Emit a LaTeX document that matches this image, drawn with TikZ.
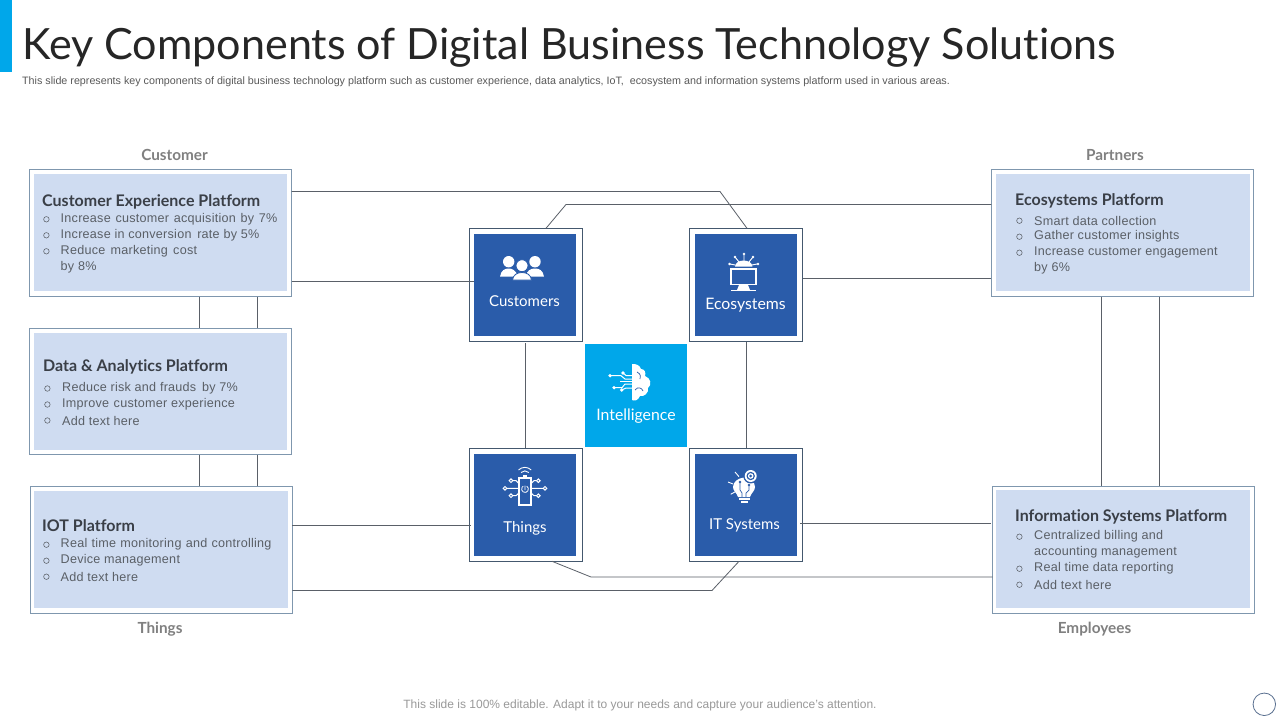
\documentclass[tikz,border=0pt]{standalone}
\usepackage{fontspec}
\setmainfont{Liberation Sans}
\newfontfamily\lato[Ligatures=NoCommon]{Lato}
\newfontfamily\bodyface[LetterSpace=2]{Liberation Sans}
\usetikzlibrary{calc}
\definecolor{accent}{HTML}{00A7EA}
\definecolor{deep}{HTML}{2A5CAA}
\definecolor{pale}{HTML}{CFDCF1}
\definecolor{frameblue}{HTML}{7F97AE}
\definecolor{framedark}{HTML}{44586E}
\definecolor{wire}{HTML}{5A6068}
\definecolor{labelgrey}{HTML}{808080}
\definecolor{bodygrey}{HTML}{5A5F66}
\definecolor{headdark}{HTML}{3A3F47}
\definecolor{badgeline}{HTML}{5A7090}
\tikzset{
 x=1pt,y=-1pt,
 outerplat/.style={draw=frameblue,line width=0.9pt,fill=white,anchor=north west,inner sep=0pt,outer sep=0pt},
 innerplat/.style={fill=pale,anchor=north west,inner sep=0pt,outer sep=0pt},
 outerhub/.style={draw=framedark,line width=0.9pt,fill=white,anchor=north west,inner sep=0pt,outer sep=0pt,minimum width=113.4pt,minimum height=113pt},
 innerhub/.style={fill=deep,anchor=north west,inner sep=0pt,outer sep=0pt,minimum width=102pt,minimum height=102pt},
 wirestyle/.style={draw=wire,line width=0.8pt},
 hublabel/.style={text=white,font=\lato\fontsize{15}{18}\selectfont,anchor=base,inner sep=0pt},
 hublabelwide/.style={text=white,font=\lato\fontsize{15.8}{18}\selectfont,anchor=base,inner sep=0pt},
 grouplabel/.style={text=labelgrey,font=\lato\bfseries\fontsize{15.3}{17}\selectfont,anchor=base,inner sep=0pt},
 heading/.style={text=headdark,font=\lato\bfseries\fontsize{16}{18}\selectfont,anchor=west,inner sep=0pt},
 bodyline/.style={text=bodygrey,font=\bodyface\fontsize{12.6}{14}\selectfont,anchor=west,inner sep=0pt},
 bulletmark/.style={draw=bodygrey,line width=0.55pt,fill=none,circle,inner sep=0pt,outer sep=0pt,minimum size=5.5pt},
 iconline/.style={draw=white,line width=1pt,fill=none},
}
\newcommand{\plat}[9]{%
 \node[outerplat,minimum width={(#4-#2)*1pt},minimum height={(#5-#3)*1pt}] (#1) at (#2,#3) {};
 \node[innerplat,minimum width={(#8-#6)*1pt},minimum height={(#9-#7)*1pt}] (#1in) at (#6,#7) {};}
\newcommand{\hub}[4]{%
 \node[outerhub] (#1) at (#2,#3) {};
 \node[innerhub] (#1in) at (#4,#3+5.7) {};}
\newcommand{\bul}[3]{%
 \node[bulletmark] (b#1) at (#2,#3) {};}
\begin{document}
\begin{tikzpicture}
\useasboundingbox (0,0) rectangle (1280,720);
\fill[white] (0,0) rectangle (1280,720);
\node[fill=accent,anchor=north west,minimum width=12pt,minimum height=72pt,inner sep=0pt,outer sep=0pt] (bar) at (0,0) {};
\node[anchor=base west,inner sep=0pt,text=black!85,font=\lato\fontsize{43.05}{50}\selectfont] (title) at (22,59) {Key Components of Digital Business Technology Solutions};
\node[anchor=west,inner sep=0pt,text=black!65,font=\fontsize{10.72}{12}\selectfont] (sub) at (22,81.3) {This slide represents key components of digital business technology platform such as customer experience, data analytics, IoT,\ \ ecosystem and information systems platform used in various areas.};

\plat{cep}{29.3}{169.3}{291.7}{296.5}{34}{174}{287}{291}
\plat{dap}{29.3}{328.3}{291.7}{454.7}{34}{332.5}{287}{449.7}
\plat{iot}{30.3}{486.3}{292.3}{613.3}{34}{490.5}{287.5}{607.7}
\plat{eco}{991.3}{169.3}{1253.7}{296.7}{996}{174}{1249.5}{291}
\plat{isp}{992.7}{486.3}{1254.5}{613.3}{996}{490}{1249.5}{608}
\hub{hcust}{469.3}{228.3}{474}
\hub{heco}{689.3}{228.3}{695}
\hub{hthing}{469.3}{448.3}{474}
\hub{hit}{689.3}{448.3}{695}
\node[fill=accent,anchor=north west,minimum width=102pt,minimum height=102.7pt,inner sep=0pt,outer sep=0pt] (intel) at (585,344) {};

% connectors
\draw[wirestyle] (cep.east |- 0,191.5) -- (720,191.5) -- (heco.north -| 747,0);
\draw[wirestyle] (hcust.north -| 546,0) -- (566,204.5) -- (eco.west |- 0,204.5);
\draw[wirestyle] (cep.east |- 0,281) -- (hcustin.west |- 0,281);
\draw[wirestyle] (heco.east |- 0,278) -- (eco.west |- 0,278);
\draw[wirestyle] (525.5,343) -- (hthing.north -| 525.5,0);
\draw[wirestyle] (746,342) -- (hit.north -| 746,0);
\draw[wirestyle] (cep.south -| 199,0) -- (dap.north -| 199,0);
\draw[wirestyle] (cep.south -| 257,0) -- (dap.north -| 257,0);
\draw[wirestyle] (dap.south -| 199,0) -- (iot.north -| 199,0);
\draw[wirestyle] (dap.south -| 257,0) -- (iot.north -| 257,0);
\draw[wirestyle] (eco.south -| 1101.5,0) -- (isp.north -| 1101.5,0);
\draw[wirestyle] (eco.south -| 1159.5,0) -- (isp.north -| 1159.5,0);
\draw[wirestyle] (iot.east |- 0,525.5) -- (470.7,525.5);
\draw[wirestyle] (800,523) -- (990.7,523);
\draw[wirestyle] (hthing.south -| 552,0) -- (591,577) -- (isp.west |- 0,577);
\draw[wirestyle] (iot.east |- 0,590.5) -- (712,590.5) -- (hit.south -| 739,0);

% group labels
\node[grouplabel] (l1) at (174.5,160) {Customer};
\node[grouplabel] (l2) at (1115,160) {Partners};
\node[grouplabel] (l3) at (160,633) {Things};
\node[grouplabel] (l4) at (1094.5,633.5) {Employees};

% left text
\node[heading] (t1) at (42,202) {Customer Experience Platform};
\bul{a1}{46.4}{219.3}\node[bodyline] at (60.5,219.5) {Increase\kern1pt\ customer\kern1pt\ acquisition\kern1pt\ by\kern1pt\ 7\%};
\bul{a2}{46.4}{235.3}\node[bodyline] at (60.5,235.5) {Increase in conversion\ \kern2pt rate by 5\%};
\bul{a3}{46.4}{251.3}\node[bodyline] at (60.5,251.5) {Reduce\kern1.5pt\ marketing\kern1.5pt\ cost};
\node[bodyline] at (60.5,267.5) {by 8\%};

\node[heading] (t2) at (43,367) {Data \& Analytics Platform};
\bul{b1}{47.4}{388.5}\node[bodyline] at (62,388.5) {Reduce risk and frauds\ \kern2pt by 7\%};
\bul{b2}{47.4}{404.5}\node[bodyline] at (62,404.5) {Improve\ \ \kern-3pt customer experience};
\bul{b3}{47.4}{420.5}\node[bodyline] at (62,420.5) {Add text here};

\node[heading] (t3) at (42,526) {IOT Platform};
\bul{c1}{46.4}{544.7}\node[bodyline] at (60.5,544.5) {Real\kern.5pt\ time\kern.5pt\ monitoring\kern.5pt\ and\kern.5pt\ controlling};
\bul{c2}{46.4}{560.7}\node[bodyline] at (60.5,560.5) {Device\ management};
\bul{c3}{46.4}{576.7}\node[bodyline] at (60.5,576.5) {Add text here};

% right text
\node[heading] (t4) at (1015,201) {Ecosystems Platform};
\bul{d1}{1019.4}{220.7}\node[bodyline] at (1034,220.5) {Smart data collection};
\bul{d2}{1019.4}{236.7}\node[bodyline] at (1034,236.5) {Gather customer insights};
\bul{d3}{1019.4}{252.7}\node[bodyline] at (1034,252.5) {Increase customer engagement};
\node[bodyline] at (1034,268.5) {by 6\%};

\node[heading] (t5) at (1015,517) {Information Systems Platform};
\bul{e1}{1019.4}{536.7}\node[bodyline] at (1034,536.5) {Centralized billing and};
\node[bodyline] at (1034,552.5) {accounting management};
\bul{e2}{1019.4}{568.7}\node[bodyline] at (1034,568.5) {Real time data reporting};
\bul{e3}{1019.4}{584.7}\node[bodyline] at (1034,584.5) {Add text here};

% hub labels
\node[hublabel] (n1) at (524.5,306.7) {Customers};
\node[hublabelwide] (n2) at (745.5,309.8) {Ecosystems};
\node[hublabel] (n3) at (525,532.8) {Things};
\node[hublabel] (n4) at (744.5,529.8) {IT Systems};
\node[hublabelwide] (n5) at (636,420.8) {Intelligence};

% customers icon
\fill[white] (508.7,261.7) circle (5.7);
\fill[white] (535,261.7) circle (5.7);
\fill[white] (500,276.7) .. controls (501,270) and (505,268.5) .. (508.7,268.5) .. controls (512,268.5) and (516,270) .. (518,276.7) -- cycle;
\fill[white] (544,276.7) .. controls (543,270) and (539,268.5) .. (535,268.5) .. controls (531,268.5) and (527,270) .. (525.5,276.7) -- cycle;
\filldraw[fill=white,draw=deep,line width=0.8pt] (522,265.7) circle (6);
\filldraw[fill=white,draw=deep,line width=0.8pt] (512.5,280) .. controls (513,275) and (517,272.5) .. (522,272.5) .. controls (527,272.5) and (531,275) .. (531.5,280) -- cycle;

% ecosystems icon
\draw[iconline,line width=1.5pt] (731,269) rectangle (756,284.5);
\fill[white] (739,285) -- (748,285) -- (750,290) -- (737,290) -- cycle;
\draw[white,line width=1pt] (731,290.7) -- (756,290.7);
\fill[white] (735,266.5) arc (180:360:8.7 and 6) -- cycle;
\draw[white,line width=0.9pt] (739,262) -- (735,257) (744,261) -- (744,255) (749,262) -- (753,257) (735,265) -- (730,264) (752,265) -- (757,264);
\fill[white] (735,257) circle (1.4) (744,254) circle (1.4) (753,257) circle (1.4) (729.5,264) circle (1.4) (758,264) circle (1.4);

% intelligence icon
\fill[white] (632,364) .. controls (636,363.5) and (640,365.5) .. (641,369) .. controls (645,369) and (646,373) .. (645,376) .. controls (651,378) and (652,385) .. (648,388) .. controls (649,393) and (644,397) .. (640,396) .. controls (638,401) and (634,401) .. (632,400) -- cycle;
\draw[deep,line width=0.7pt] (637,372) .. controls (641,374) and (641,377) .. (640,379) (635,390) .. controls (638,386) and (642,388) .. (643,391);
\draw[white,line width=1pt] (610,375.7) -- (621,375.7) -- (625,379) -- (632,379);
\draw[white,line width=1pt] (623,373) -- (626,375.5) -- (632,375.5);
\draw[white,line width=1pt] (614,387.7) -- (622,387.7) -- (625,384) -- (632,384);
\draw[white,line width=1pt] (621.7,390) -- (626,388) -- (632,388);
\draw[white,line width=1pt] (620,381.5) -- (632,381.5);
\fill[white] (610,375.7) circle (1.8) (623,373) circle (1.8) (614,387.7) circle (1.8) (621.7,390) circle (1.8);

% things icon
\draw[iconline,line width=1.2pt] (519,478) rectangle (531,505);
\fill[white] (523,475) rectangle (527,478);
\draw[white,line width=0.9pt] (521,472.5) arc (225:315:5.5) (518.5,470) arc (225:315:9);
\draw[white,line width=0.8pt] (526.7,486.1) arc (-60:240:3.4) (525,485.5) -- (525,490);
\draw[white,line width=1pt] (519,483.5) -- (516,480.7) -- (513,480.7) (519,488.3) -- (507,488.3) (519,493) -- (516,495.7) -- (513,495.7) (531,483.5) -- (534,480.7) -- (536.3,480.7) (531,488.3) -- (543,488.3) (531,493) -- (534,495.7) -- (536.3,495.7);
\draw[white,line width=1pt] (511,480.7) circle (1.8) (505,488.3) circle (1.8) (511,495.7) circle (1.8) (538.3,480.7) circle (1.8) (545,488.3) circle (1.8) (538.3,495.7) circle (1.8);

% IT icon
\fill[white] (744,477.5) .. controls (750,477) and (755,482) .. (755,487) .. controls (755,491) and (751,493) .. (750,497) -- (738,497) .. controls (737,493) and (733,491) .. (733,487) .. controls (733,482) and (738,478) .. (744,477.5) -- cycle;
\fill[white] (738.5,498) rectangle (749.5,500);
\fill[white] (740.5,501) rectangle (747.5,503);
\fill[deep] (740,482) circle (1.4) (749,485) circle (1.4);
\draw[deep,line width=0.7pt] (740,482) -- (740,490) -- (742,493) -- (742,497) (749,485) -- (749,490) -- (746,493) -- (746,497);
\filldraw[fill=deep,draw=deep,line width=0.8pt] (750.7,476) circle (7);
\fill[white] (750.7,476) circle (6);
\fill[deep] (750.7,476) circle (4.2);
\fill[white] (750.7,476) circle (2.8);
\fill[deep] (750.7,476) circle (1.5);
\draw[white,line width=0.9pt] (735,472) -- (739,476.7) (728,482) -- (733,484) (730.7,494.3) -- (735.7,491.5);

% footer
\node[anchor=center,inner sep=0pt,text=black!40,font=\fontsize{12}{14}\selectfont] (foot) at (640,705.3) {This slide is 100\% editable. Adapt it to your needs and capture your audience's attention.};
\node[circle,draw=badgeline,line width=0.8pt,fill=white,minimum size=22.5pt,inner sep=0pt,outer sep=0pt] (badge) at (1264.3,704.3) {};
\end{tikzpicture}
\end{document}
